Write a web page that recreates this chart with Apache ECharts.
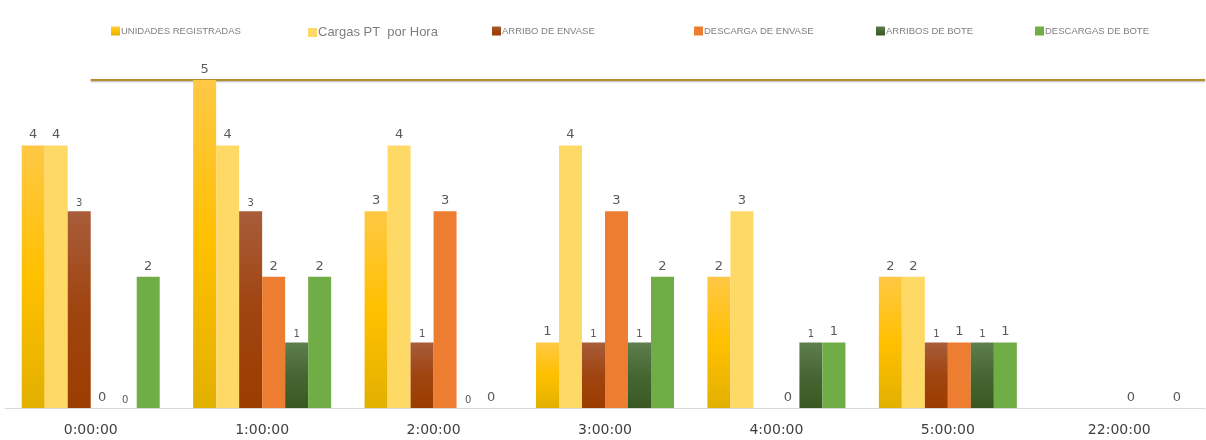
<!DOCTYPE html>
<html>
<head>
<meta charset="utf-8">
<script src="https://cdn.jsdelivr.net/npm/echarts@6/dist/echarts.min.js"></script>
<style>
  html, body { margin: 0; padding: 0; background: #fff; }
  #chart { width: 1206px; height: 440px; }
</style>
</head>
<body>
<div id="chart"></div>
<script>
const horas = ["0:00:00", "1:00:00", "2:00:00", "3:00:00", "4:00:00", "5:00:00", "22:00:00"];
const unidades = [4, 5, 3, 1, 2, 2, null];
const cargasPT = [4, 4, 4, 4, 3, 2, null];
const arriboEnvase = [3, 3, 1, 1, null, 1, null];
const descargaEnvase = [0, 2, 3, 3, 0, 1, 0];
const arribosBote = [0, 1, 0, 1, 1, 1, null];
const descargasBote = [2, 2, 0, 2, 1, 1, 0];
// linea dorada superior (desde el centro de 0:00:00 hasta el borde derecho)
const lineaSuperior = [[0.5, 5], [7, 5]];

const grad = (a, b, c) => new echarts.graphic.LinearGradient(0, 0, 0, 1, [
  { offset: 0, color: a },
  { offset: 0.5, color: b },
  { offset: 1, color: c },
]);

let myChart = echarts.init(document.getElementById("chart"));

const bigLabel = { show: true, position: "top", distance: 4, color: "#595959", fontSize: 13, fontFamily: "DejaVu Sans" };
const smallLabel = { show: true, position: "top", distance: 3, color: "#595959", fontSize: 10, fontFamily: "DejaVu Sans" };

function legendItem(name, left, size) {
  return {
    data: [name],
    left: left,
    top: 21,
    itemWidth: 9,
    itemHeight: 9,
    icon: "rect",
    selectedMode: false,
    textStyle: {
      color: "#7f7f7f",
      fontSize: size,
      fontFamily: "Liberation Sans",
      padding: [0, 0, 0, -4],
    },
  };
}

let option = {
  backgroundColor: "#fff",
  animation: false,
  legend: [
    legendItem("UNIDADES REGISTRADAS", 106, 9.5),
    legendItem("Cargas PT  por Hora", 303, 13),
    legendItem("ARRIBO DE ENVASE", 487, 9.5),
    legendItem("DESCARGA DE ENVASE", 689, 9.5),
    legendItem("ARRIBOS DE BOTE", 871, 9.5),
    legendItem("DESCARGAS DE BOTE", 1030, 9.5),
  ],
  grid: {
    left: 5,
    right: 1,
    top: 80,
    bottom: 32,
    containLabel: false,
  },
  xAxis: [
    {
      type: "category",
      data: horas,
      axisTick: { show: false },
      axisLine: { lineStyle: { color: "#d9d9d9", width: 1 } },
      axisLabel: {
        color: "#404040",
        fontSize: 14,
        fontFamily: "DejaVu Sans",
        margin: 15,
      },
    },
    {
      type: "value",
      min: 0,
      max: 7,
      show: false,
    },
  ],
  yAxis: {
    type: "value",
    min: 0,
    max: 5,
    show: false,
    splitLine: { show: false },
  },
  series: [
    {
      name: "UNIDADES REGISTRADAS",
      type: "bar",
      data: unidades,
      barGap: "0%",
      barCategoryGap: "19.5%",
      itemStyle: { color: grad("#FFC845", "#FFC000", "#E2B000") },
      label: bigLabel,
    },
    {
      name: "Cargas PT  por Hora",
      type: "bar",
      data: cargasPT,
      itemStyle: { color: "#FFD966" },
      label: bigLabel,
    },
    {
      name: "ARRIBO DE ENVASE",
      type: "bar",
      data: arriboEnvase,
      itemStyle: { color: grad("#A85D3A", "#A04410", "#9C3D00") },
      label: smallLabel,
    },
    {
      name: "DESCARGA DE ENVASE",
      type: "bar",
      data: descargaEnvase,
      itemStyle: { color: "#ED7D31" },
      label: bigLabel,
    },
    {
      name: "ARRIBOS DE BOTE",
      type: "bar",
      data: arribosBote,
      itemStyle: { color: grad("#5E7F4E", "#466733", "#385723") },
      label: smallLabel,
    },
    {
      name: "DESCARGAS DE BOTE",
      type: "bar",
      data: descargasBote,
      itemStyle: { color: "#70AD47" },
      label: bigLabel,
    },
    {
      name: "linea",
      type: "line",
      xAxisIndex: 1,
      data: lineaSuperior,
      symbol: "none",
      silent: true,
      clip: false,
      z: 1,
      lineStyle: {
        color: "#B0902C",
        width: 2,
        shadowColor: "rgba(0,0,0,0.3)",
        shadowBlur: 2,
        shadowOffsetY: 1,
      },
    },
  ],
};

myChart.setOption(option);
</script>
</body>
</html>
